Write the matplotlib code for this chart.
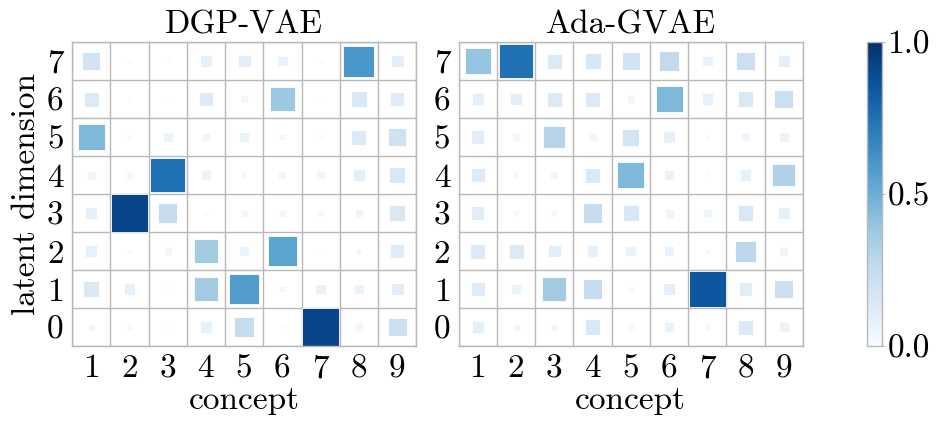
import matplotlib

matplotlib.use("Agg")
import matplotlib.pyplot as plt
import numpy as np
from matplotlib.patches import Rectangle
from matplotlib.colors import Normalize
from matplotlib.cm import ScalarMappable

plt.rcParams["font.family"] = ["cmr10", "DejaVu Serif"]
plt.rcParams["axes.formatter.use_mathtext"] = True

GRID_COLOR = "#b8b8b8"
CMAP = plt.get_cmap("Blues")

concepts = ["1", "2", "3", "4", "5", "6", "7", "8", "9"]
latents = ["0", "1", "2", "3", "4", "5", "6", "7"]

# rows = latent dimension 0..7, columns = concept 1..9
dgp_vae = np.array([
    [0.03, 0.02, 0.01, 0.08, 0.24, 0.01, 0.92, 0.045, 0.22],   # 0
    [0.15, 0.08, 0.008, 0.36, 0.58, 0.025, 0.07, 0.06, 0.10],  # 1
    [0.08, 0.015, 0.04, 0.36, 0.06, 0.55, 0.005, 0.025, 0.12],  # 2
    [0.09, 0.92, 0.24, 0.01, 0.03, 0.03, 0.025, 0.045, 0.15],  # 3
    [0.05, 0.03, 0.75, 0.06, 0.025, 0.04, 0.045, 0.10, 0.15],  # 4
    [0.45, 0.01, 0.06, 0.045, 0.07, 0.025, 0.008, 0.14, 0.20],  # 5
    [0.14, 0.008, 0.008, 0.13, 0.04, 0.38, 0.004, 0.15, 0.12],  # 6
    [0.19, 0.01, 0.01, 0.08, 0.10, 0.07, 0.01, 0.60, 0.10],    # 7
])

ada_gvae = np.array([
    [0.09, 0.03, 0.03, 0.15, 0.025, 0.07, 0.025, 0.14, 0.06],  # 0
    [0.12, 0.07, 0.36, 0.24, 0.025, 0.09, 0.85, 0.11, 0.22],   # 1
    [0.14, 0.14, 0.10, 0.08, 0.07, 0.07, 0.015, 0.28, 0.05],   # 2
    [0.11, 0.02, 0.02, 0.24, 0.16, 0.05, 0.05, 0.15, 0.09],    # 3
    [0.12, 0.025, 0.04, 0.14, 0.45, 0.07, 0.01, 0.08, 0.32],   # 4
    [0.11, 0.04, 0.30, 0.04, 0.18, 0.08, 0.015, 0.045, 0.06],  # 5
    [0.09, 0.10, 0.14, 0.14, 0.04, 0.45, 0.08, 0.15, 0.22],    # 6
    [0.40, 0.75, 0.14, 0.16, 0.19, 0.26, 0.07, 0.22, 0.09],    # 7
])

panels = [("DGP-VAE", dgp_vae), ("Ada-GVAE", ada_gvae)]


def hinton(ax, matrix, title, norm):
    n_rows, n_cols = matrix.shape
    for i in range(n_rows):
        for j in range(n_cols):
            v = matrix[i, j]
            side = min(0.98, 1.05 * np.sqrt(v))
            ax.add_patch(Rectangle((j - side / 2, i - side / 2), side, side,
                                   facecolor=CMAP(norm(v)), edgecolor="white",
                                   linewidth=0.6))
    ax.set_xlim(-0.5, n_cols - 0.5)
    ax.set_ylim(-0.5, n_rows - 0.5)
    ax.set_xticks(np.arange(-0.5, n_cols, 1), minor=True)
    ax.set_yticks(np.arange(-0.5, n_rows, 1), minor=True)
    ax.grid(True, which="minor", color=GRID_COLOR, linewidth=1.0)
    ax.set_axisbelow(True)
    ax.set_xticks(np.arange(n_cols))
    ax.set_xticklabels(concepts)
    ax.set_yticks(np.arange(n_rows))
    ax.set_yticklabels(latents)
    ax.tick_params(which="both", length=0, labelsize=24, pad=6)
    for spine in ax.spines.values():
        spine.set_color(GRID_COLOR)
        spine.set_linewidth(1.0)
    ax.set_title(title, fontsize=24, pad=6)
    ax.set_xlabel("concept", fontsize=24, labelpad=2)


fig = plt.figure(figsize=(9.38, 4.21), dpi=100)
norm = Normalize(vmin=0.0, vmax=1.0)

ax1 = fig.add_axes([0.0768, 0.178, 0.367, 0.722])
ax2 = fig.add_axes([0.489, 0.178, 0.367, 0.722])
cax = fig.add_axes([0.924, 0.178, 0.016, 0.722])

for ax, (title, matrix) in zip([ax1, ax2], panels):
    hinton(ax, matrix, title, norm)
ax1.set_ylabel("latent dimension", fontsize=24, labelpad=4)

cb = fig.colorbar(ScalarMappable(norm=norm, cmap=CMAP), cax=cax, ticks=[0.0, 0.5, 1.0])
cb.ax.set_yticklabels(["0.0", "0.5", "1.0"])
cb.ax.tick_params(labelsize=24, length=2, color=GRID_COLOR, pad=2)
cb.outline.set_edgecolor(GRID_COLOR)
cb.outline.set_linewidth(1.0)

fig.savefig("out.png", dpi=100)
